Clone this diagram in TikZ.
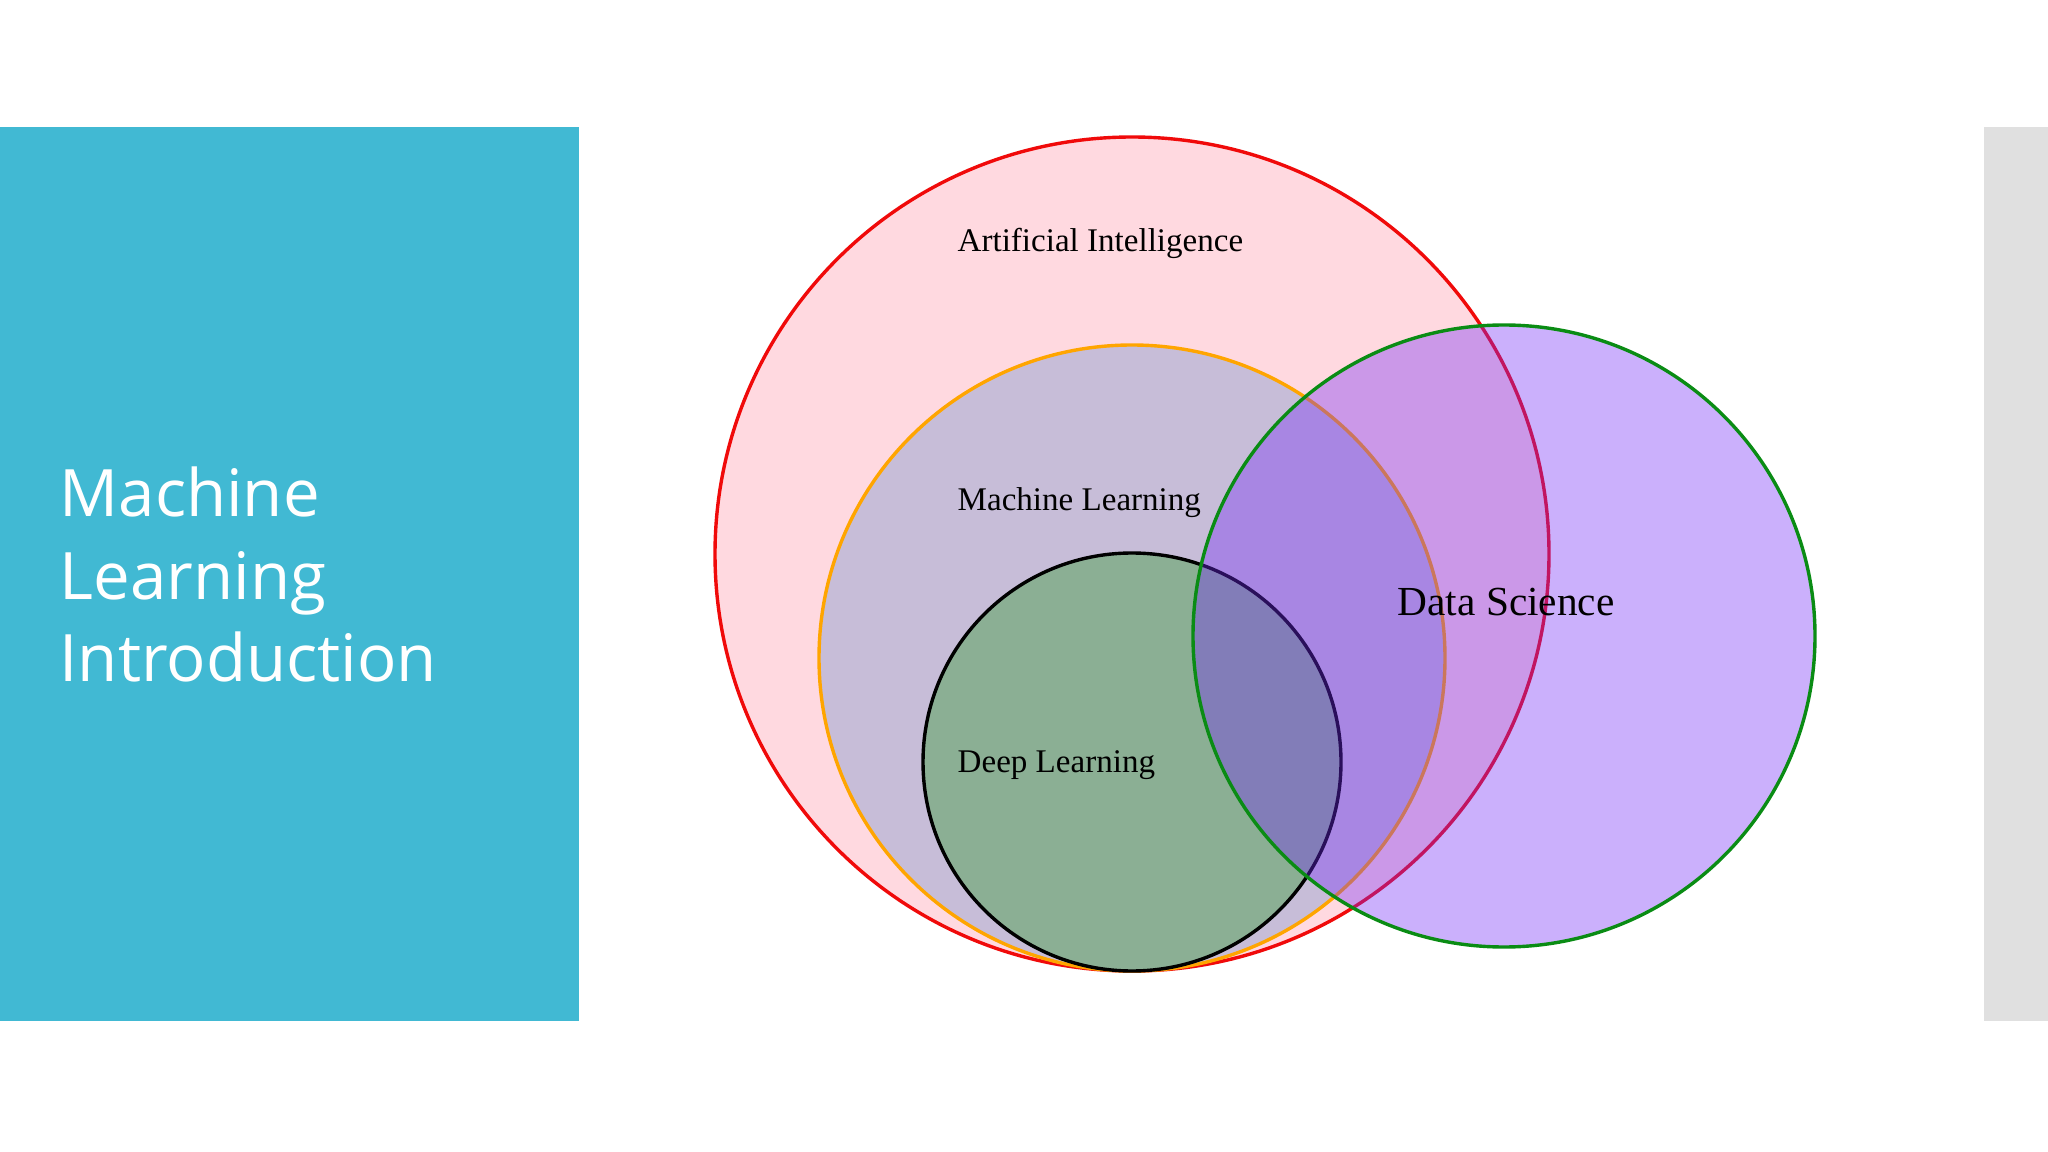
\documentclass[tikz,border=0pt]{standalone}
\usepackage{fontspec}
\newfontfamily\titlefont{Open Sans}
\newfontfamily\vennfont{Liberation Serif}
\definecolor{panelblue}{RGB}{65,185,211}
\definecolor{panelgray}{RGB}{224,224,224}
\definecolor{aifill}{RGB}{255,217,224}
\definecolor{airing}{RGB}{240,10,10}
\definecolor{mlfill}{RGB}{199,189,216}
\definecolor{mlring}{RGB}{255,165,0}
\definecolor{dlfill}{RGB}{139,175,148}
\definecolor{dsfill}{RGB}{115,42,247}
\definecolor{dsring}{RGB}{10,140,20}

\begin{document}
\begin{tikzpicture}[x=0.01cm, y=-0.01cm,
    set/.style={line width=0.034cm},
    setlabel/.style={anchor=base west, inner sep=0pt, font=\vennfont\fontsize{9.4}{11}\selectfont}
  ]
  % slide
  \fill[white] (0,0) rectangle (2048,1152);
  \fill[panelblue] (0,127) rectangle (579,1021);
  \fill[panelgray] (1984,127) rectangle (2048,1021);
  \node[anchor=base west, inner sep=0pt, align=left, text=white,
        font=\titlefont\fontsize{18.6}{23.6}\selectfont] (title) at (59,682)
        {Machine\\Learning\\Introduction};

  % nested sets
  \draw[set, draw=airing, fill=aifill] (1132,554) circle[radius=417];
  \draw[set, draw=mlring, fill=mlfill] (1132,658) circle[radius=313];
  \draw[set, draw=black, fill=dlfill]  (1132,762) circle[radius=209];

  % data science on top
  \fill[dsfill, fill opacity=0.37] (1504,636) circle[radius=311];
  \draw[set, draw=dsring] (1504,636) circle[radius=311];

  \node[setlabel] (ai) at (957,252) {Artificial Intelligence};
  \node[setlabel] (ml) at (957,511) {Machine Learning};
  \node[setlabel] (dl) at (957,772) {Deep Learning};
  \node[setlabel, font=\vennfont\fontsize{11.75}{14}\selectfont] (ds) at (1397,615) {Data Science};
\end{tikzpicture}
\end{document}
